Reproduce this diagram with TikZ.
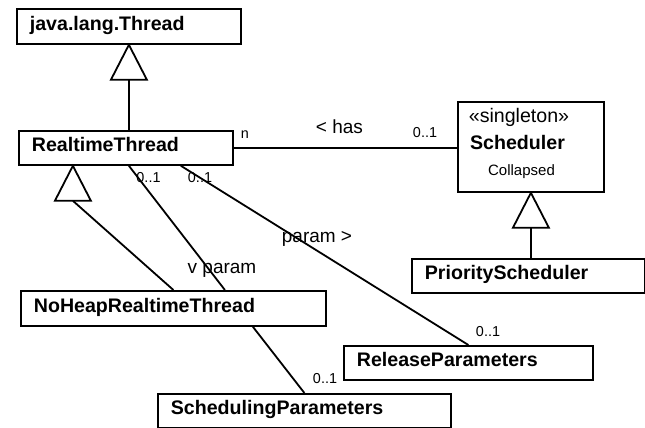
\documentclass[tikz,border=0pt]{standalone}
\usepackage{fontspec}
\setmainfont{Liberation Sans}
\usepackage{tikz}

\begin{document}
\begin{tikzpicture}[x=1pt,y=-1pt,line width=1.8pt,
        cls/.style={draw,anchor=north west,inner xsep=13pt,inner ysep=0pt,
          text height=15pt,text depth=7pt,align=left,
          font=\bfseries\fontsize{19.6}{22}\selectfont},
        lbl/.style={anchor=base,inner sep=0pt,font=\fontsize{19}{22}\selectfont},
        mult/.style={anchor=base,inner sep=0pt,font=\fontsize{14.4}{17}\selectfont},
        gentri/.style={draw,fill=white,line join=miter}]

  \useasboundingbox (0,0) rectangle (645,428);

  % classes
  \node[cls,text width=198pt,minimum height=35pt] (thread) at (16,8) {java.lang.Thread};
  \node[cls,text width=188pt,minimum height=34pt] (rtt) at (18,130) {RealtimeThread};
  \node[cls,text width=279pt,minimum height=35pt] (noheap) at (20,290) {NoHeapRealtimeThread};
  \node[cls,text width=223pt,minimum height=34pt] (release) at (343,345) {ReleaseParameters};
  \node[cls,text width=267pt,minimum height=34pt] (schedp) at (157,393) {SchedulingParameters};
  \node[cls,text width=207pt,minimum height=34pt] (prio) at (411,258) {PriorityScheduler};
  \node[draw,anchor=north west,inner sep=0pt,minimum width=146pt,minimum height=90pt]
    (sched) at (457,101) {};
  \node[anchor=base,inner sep=0pt,font=\fontsize{19.6}{22}\selectfont]
    (stereo) at (519,122.7) {«singleton»};
  \node[anchor=base,inner sep=0pt,font=\bfseries\fontsize{19.6}{22}\selectfont]
    (schedname) at (517.5,149) {Scheduler};
  \node[anchor=base,inner sep=0pt,font=\fontsize{15}{18}\selectfont]
    (collapsed) at (521.5,175) {Collapsed};

  % generalizations
  \coordinate (g1) at (thread.south);
  \coordinate (g2) at ([xshift=-53pt]rtt.south);
  \coordinate (g3) at (sched.south);
  \draw (g1) ++(0,35) -- (rtt.north -| g1);
  \draw (g2) ++(0,35) -- (noheap.north);
  \draw (g3) ++(0,35) -- (prio.north -| g3);
  \draw[gentri] (g1) -- ++(-18,35) -- ++(36,0) -- cycle;
  \draw[gentri] (g2) -- ++(-18,35) -- ++(36,0) -- cycle;
  \draw[gentri] (g3) -- ++(-18,35) -- ++(36,0) -- cycle;

  % associations
  \draw (rtt.east) -- (rtt.east -| sched.west);
  \draw ([xshift=3pt]rtt.south) -- ([xshift=51.5pt]noheap.north);
  \draw ([xshift=55pt]rtt.south) -- (release.north);
  \draw ([xshift=79.5pt]noheap.south) -- (schedp.north);

  \node[mult] (hasn) at (245,138) {n};
  \node[lbl] (has) at (339.5,133) {< has};
  \node[mult] (hasone) at (425,137) {0..1};
  \node[mult] (vone) at (148.5,182) {0..1};
  \node[lbl] (vparam) at (222,273) {v param};
  \node[mult] (pone) at (200,182) {0..1};
  \node[lbl] (param) at (317,242) {param >};
  \node[mult] (relone) at (488,336) {0..1};
  \node[mult] (spone) at (325,383) {0..1};

\end{tikzpicture}
\end{document}
